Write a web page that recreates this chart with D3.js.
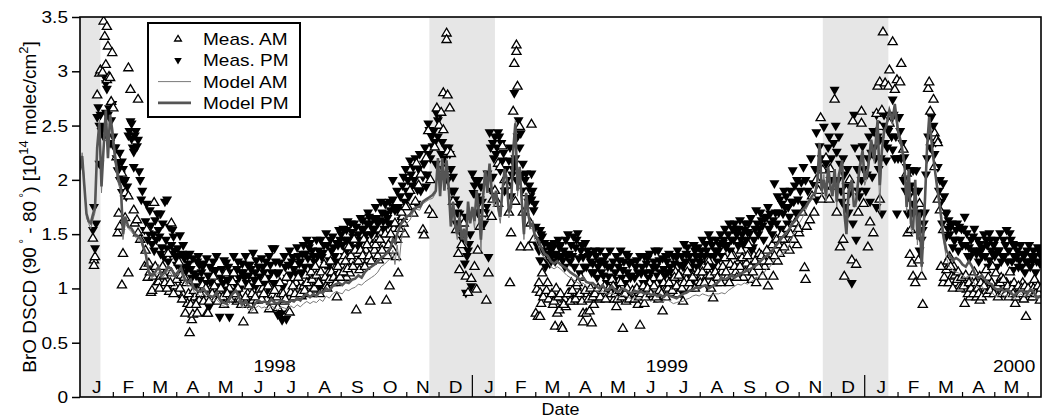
<!DOCTYPE html>
<html>
<head>
<meta charset="utf-8">
<style>
body { margin: 0; background: #fff; }
svg { display: block; font-family: "Liberation Sans", Arial, Helvetica, sans-serif; }
.frame { fill: none; stroke: #000; stroke-width: 1.6; }
.band { fill: #e6e6e6; }
.am { fill: #fff; stroke: #000; stroke-width: 1.3; }
.pm { fill: #000; stroke: none; }
.model-am { fill: none; stroke: #7a7a7a; stroke-width: 1; }
.model-pm { fill: none; stroke: #555; stroke-width: 2.6; }
</style>
</head>
<body>
<svg width="1047" height="419"></svg>
<script src="https://d3js.org/d3.v7.min.js"></script>
<script>

// day offsets counted from 1 Jan 1998
var yTicks = [0, 0.5, 1, 1.5, 2, 2.5, 3, 3.5],
    monthLetters = ["J", "F", "M", "A", "M", "J", "J", "A", "S", "O", "N", "D"],
    yearLabels = ["1998", "1999", "2000"],
    yearDays = [181, 546, 869],
    shadeFrom = [0, 325, 691],
    shadeTo = [19, 386, 752],
    legendNames = ["Meas. AM", "Meas. PM", "Model AM", "Model PM"];

var measAM = [
  [12,1.46],[13,1.26],[13,1.21],[14,1.29],[16,2.78],[18,2.98],[19,3.01],[21,2.99],[22,3.46],[23,3.32],[24,3.06],[25,3.41],[25,2.92],[26,3.23],[27,2.95],[28,2.94],[29,2.72],[30,3.17],[31,2.66],
  [34,2.21],[35,1.51],[36,1.69],[37,1.57],[39,2.06],[39,1.03],[40,1.32],[42,1.88],[42,1.65],[45,1.85],[45,1.14],[45,3.03],[47,2.83],[50,1.72],[51,1.6],[53,1.63],[54,1.51],[54,2.74],[56,1.45],
  [60,1.2],[62,1.54],[63,1.1],[64,1.23],[66,0.96],[67,0.98],[68,1.11],[69,1.79],[72,1.06],[73,1.06],[75,1.11],[77,1.2],[79,1.05],[82,1.32],[83,0.97],[85,1.6],[85,1.14],[88,1.02],[90,1.08],
  [91,0.96],[92,1.24],[94,1.12],[96,0.94],[98,0.77],[99,1.05],[100,0.86],[102,0.59],[104,0.71],[104,0.87],[105,0.76],[107,0.92],[109,0.77],[110,0.89],[111,0.89],[114,1.03],[116,0.95],[118,0.77],[119,0.77],
  [121,0.99],[124,1.11],[126,0.9],[129,0.98],[130,0.92],[133,0.92],[136,1.14],[139,1.0],[142,1.06],[143,1.14],[146,0.88],[148,0.92],[150,0.85],
  [152,0.69],[153,0.89],[156,0.95],[158,0.85],[161,0.8],[161,0.89],[165,0.89],[167,0.99],[170,1.0],[172,1.09],[174,0.9],[176,0.81],[179,0.94],
  [183,0.92],[184,0.82],[187,0.95],[190,0.88],[192,1.1],[194,0.79],[195,0.78],[196,0.96],[199,0.92],[201,1.05],[204,1.0],[206,0.93],[208,1.02],[210,1.12],
  [213,1.05],[215,1.15],[217,0.99],[219,1.2],[221,1.08],[223,0.95],[225,1.11],[227,1.22],[229,1.02],[231,1.14],[233,1.25],[235,1.05],[237,1.18],[239,0.92],[241,1.14],
  [244,1.2],[246,1.3],[248,1.1],[250,1.38],[251,1.14],[253,1.25],[255,1.45],[257,0.8],[258,1.32],[260,1.17],[262,1.25],[264,1.45],[266,1.35],[268,1.26],[270,0.88],[272,1.4],
  [274,1.35],[276,1.45],[278,1.26],[280,1.5],[282,1.4],[285,0.89],[286,1.3],[288,1.02],[290,1.45],[292,1.55],[294,1.29],[296,1.14],[298,1.6],[300,1.66],[302,1.5],
  [305,1.75],[307,1.9],[310,1.69],[312,1.8],[313,2.15],[315,1.95],[317,2.05],[319,1.54],[320,1.49],[322,2.2],[324,2.45],[325,1.72],[326,2.0],[328,1.68],[330,2.3],[332,2.66],
  [334,2.5],[336,2.62],[338,2.8],[338,2.46],[340,2.1],[341,3.35],[341,3.29],[342,2.78],[342,2.26],[344,2.66],[345,2.24],[347,1.8],[350,1.54],[352,1.32],[353,1.17],[355,1.4],[357,1.6],[359,1.11],[361,0.96],[364,1.09],
  [367,1.2],[369,0.99],[370,1.35],[372,1.57],[374,1.75],[375,1.69],[378,0.89],[380,1.14],[383,1.66],[384,1.82],[386,1.9],[389,1.78],[389,2.15],[391,2.12],[393,2.31],[395,2.0],
  [397,1.95],[399,1.7],[400,1.05],[401,1.51],[403,2.63],[404,3.07],[405,1.8],[406,3.24],[406,3.18],[407,2.86],[409,2.49],[410,1.38],[412,1.7],[415,1.88],[417,1.38],[419,1.6],[420,2.51],[422,1.45],
  [424,0.77],[425,0.99],[426,0.74],[428,0.74],[428,0.96],[429,0.86],[430,1.14],[432,0.95],[435,1.05],[437,0.92],[440,0.85],[442,0.91],[442,0.65],[444,0.77],[446,0.8],[448,0.65],[449,0.63],[451,0.9],[452,0.83],
  [455,0.96],[457,1.05],[459,0.88],[462,1.02],[464,0.92],[466,1.1],[468,0.77],[468,0.69],[471,0.77],[472,0.95],[474,0.79],[476,0.68],[478,0.85],[480,0.98],[483,0.9],
  [486,0.92],[488,1.02],[490,0.95],[493,0.99],[495,1.08],[497,0.9],[499,0.83],[501,0.95],[503,1.05],[505,0.63],[508,0.88],[510,0.98],[513,0.92],
  [517,0.95],[519,0.85],[521,0.66],[523,1.0],[525,0.86],[527,0.95],[530,1.05],[533,0.92],[535,1.0],[538,0.9],[540,1.1],[542,0.79],[544,0.98],
  [547,1.0],[550,0.96],[552,1.05],[554,1.15],[556,0.95],[559,1.1],[561,0.88],[564,1.08],[566,1.2],[568,1.0],[571,1.12],[574,1.05],
  [578,1.1],[580,1.2],[583,1.11],[585,1.25],[587,1.0],[589,0.91],[592,1.05],[594,1.2],[597,1.15],[600,1.28],[602,1.1],[605,1.22],
  [608,1.3],[610,1.15],[613,1.25],[615,1.35],[617,1.1],[620,1.23],[622,1.4],[625,1.08],[627,1.3],[629,1.05],[632,1.32],[635,1.11],[637,1.2],
  [640,1.02],[642,1.3],[645,1.11],[647,1.4],[649,1.25],[651,1.32],[654,1.45],[657,1.51],[660,1.35],[662,1.45],[665,1.6],[667,1.4],[669,1.51],
  [672,1.7],[674,1.19],[675,1.08],[676,1.57],[679,1.63],[681,1.85],[683,1.7],[685,2.0],[687,1.9],[689,2.57],[690,1.82],[691,2.09],[694,2.2],[697,1.82],[698,2.1],
  [700,1.94],[702,2.74],[704,1.7],[707,1.38],[710,1.45],[711,1.11],[713,1.9],[716,2.0],[718,1.26],[719,2.54],[722,1.22],[724,1.7],[727,2.52],[727,2.63],[729,1.78],
  [733,1.38],[735,1.61],[738,1.51],[741,2.61],[742,2.86],[744,2.9],[744,2.49],[744,1.82],[746,2.64],[747,3.36],[749,2.89],[752,2.86],[753,3.01],[753,2.52],[756,3.27],[758,2.83],[760,2.92],
  [763,2.9],[764,3.07],[766,2.28],[769,2.06],[770,1.51],[772,1.31],[773,1.54],[774,1.23],[775,1.11],[777,1.05],[780,1.26],[781,1.78],[783,1.11],[784,0.85],[789,2.84],
  [790,2.9],[791,2.63],[794,2.74],[795,2.43],[795,2.12],[797,2.37],[798,2.34],[798,1.82],[800,1.72],[803,1.05],[803,1.54],[806,1.17],[809,1.29],[811,1.11],[813,1.2],[815,1.05],[818,1.02],
  [821,1.08],[823,0.86],[825,0.99],[828,0.92],[830,1.05],[832,1.15],[834,0.92],[837,0.89],[837,1.11],[840,1.0],[842,0.96],[843,1.17],[846,1.05],[849,1.2],
  [852,1.14],[855,1.0],[857,1.1],[860,0.95],[862,1.05],[865,1.15],[866,1.02],[870,0.86],[872,1.0],[874,0.92],[877,1.05],[880,0.74],
  [883,0.92],[885,1.02],[888,1.08],[890,0.96],[893,0.89],
  // denser cloud, spring to autumn
  [61,1.35],[65,1.15],[70,1.2],[74,1.0],[78,1.12],[81,1.0],[84,1.05],[87,0.95],[93,1.0],[95,0.9],[97,1.1],[101,0.95],[103,0.85],[106,0.98],[108,0.85],[112,0.95],[115,0.88],[117,1.0],
  [120,0.88],[123,0.95],[125,1.02],[128,0.88],[131,1.0],[134,0.85],[137,0.95],[140,0.9],[144,0.95],[147,1.0],[149,0.9],[154,0.92],[157,1.02],[160,0.95],[163,0.92],[166,1.05],[169,0.9],[171,0.95],
  [175,1.02],[178,0.88],[181,0.98],[186,1.05],[189,0.95],[191,0.9],[198,1.02],[200,0.95],[203,1.1],[205,0.95],[209,0.98],[211,1.05],[214,0.95],[216,1.08],[218,1.0],[220,1.12],[222,1.05],[224,1.15],
  [228,1.1],[230,1.0],[232,1.08],[234,1.15],[236,1.1],[238,1.05],[240,1.2],[242,1.1],[245,1.15],[247,1.25],[249,1.18],[252,1.3],[254,1.2],[256,1.35],[259,1.25],[261,1.35],[263,1.3],[265,1.2],
  [267,1.4],[269,1.3],[271,1.25],[275,1.4],[277,1.3],[279,1.45],[281,1.35],[284,1.5],[287,1.4],[289,1.5],[291,1.35],[293,1.6],[295,1.45],[297,1.55],[299,1.7],[301,1.6],[303,1.75],
  [427,1.05],[431,0.92],[434,0.98],[436,0.9],[439,0.95],[441,0.88],[443,1.0],[445,0.92],[447,0.95],[450,0.85],[454,0.95],[456,0.88],[458,0.98],[461,0.9],[463,1.05],[465,0.95],[467,0.88],[470,0.98],
  [473,0.9],[475,1.0],[477,0.92],[479,0.95],[482,1.0],[484,0.92],[487,0.98],[489,0.9],[492,1.0],[494,0.95],[496,1.02],[498,0.95],[500,0.9],[502,0.98],[504,0.92],[507,0.95],[509,1.0],[511,0.9],
  [514,0.98],[516,0.9],[518,1.0],[520,0.92],[522,0.95],[524,1.02],[526,0.92],[528,1.0],[531,0.95],[534,1.02],[536,0.92],[539,0.98],[541,0.95],[543,1.05],[545,0.92],[548,1.05],[551,0.98],[553,1.1],
  [555,1.02],[557,1.12],[560,1.0],[562,1.05],[565,1.15],[567,1.05],[570,1.1],[572,1.0],[575,1.15],[577,1.05],[579,1.15],[581,1.05],[584,1.2],[586,1.12],[588,1.05],[591,1.15],[593,1.1],[596,1.05],
  [598,1.2],[601,1.15],[604,1.05],[606,1.3],[609,1.2],[611,1.1],[614,1.2],[616,1.28],[619,1.15],[621,1.3],[624,1.2],[626,1.15],[628,1.25],[631,1.2],[634,1.3],[636,1.25],[639,1.35],[641,1.25],
  [644,1.4],[646,1.3],[648,1.45],[650,1.4],[653,1.5],[655,1.38],[658,1.55],[661,1.5],[664,1.45],[666,1.6],[668,1.55],
  [801,1.2],[804,1.1],[807,1.25],[808,1.05],[810,1.2],[812,1.0],[814,1.12],[816,1.08],[817,1.15],[819,1.0],[820,1.1],[822,1.02],[824,1.12],[826,0.95],[827,1.05],[829,1.0],[831,0.95],[833,1.05],
  [835,1.0],[836,0.95],[838,1.05],[839,0.92],[841,1.02],[844,0.95],[845,1.1],[847,0.98],[848,1.05],[850,0.95],[853,1.02],[854,0.92],[856,1.05],[858,0.95],[859,1.08],[861,0.95],[863,1.02],[864,0.92],
  [867,1.0],[868,0.95],[869,1.05],[871,0.92],[873,1.02],[875,0.95],[876,1.0],[878,0.9],[879,1.02],[881,0.95],[882,1.0],[884,0.95],[886,0.92],[887,1.0],[889,0.95],[891,1.02],[892,0.95],[894,1.0]
];

var measPM = [
  [12,1.54],[13,1.75],[14,1.37],[16,2.58],[17,2.67],[18,2.5],[18,2.15],[21,2.49],[24,2.89],[24,2.62],[25,2.84],[27,2.66],[28,2.34],[30,2.7],[32,2.3],
  [33,2.3],[35,2.09],[37,2.25],[37,2.0],[39,2.17],[39,1.89],[41,1.98],[44,1.94],[45,2.41],[47,2.54],[48,2.52],[48,2.38],[50,2.26],[50,2.12],[51,2.41],[53,2.31],[54,2.37],[55,2.08],[57,1.82],
  [60,1.54],[62,1.78],[64,1.51],[65,1.72],[67,1.41],[70,1.63],[72,1.69],[73,1.54],[75,1.69],[75,1.32],[76,1.38],[78,1.29],[79,1.8],[81,1.37],[81,1.82],[83,1.57],[84,1.32],[86,1.54],[87,1.48],[89,1.29],
  [91,1.37],[93,1.49],[95,1.32],[97,1.28],[99,1.2],[101,1.23],[102,1.32],[104,1.1],[106,1.14],[107,1.02],[109,1.25],[111,1.22],[112,1.08],[115,1.23],[116,1.03],[117,1.05],[118,1.28],
  [120,0.83],[121,1.2],[123,1.11],[126,1.17],[128,0.95],[129,1.02],[130,0.74],[131,1.1],[134,1.26],[135,0.99],[136,1.24],[137,1.08],[139,0.74],[140,0.96],[142,1.15],[144,1.05],[147,1.25],[149,1.0],
  [151,1.23],[153,1.1],[155,1.05],[156,1.22],[158,1.22],[160,1.02],[161,1.33],[163,1.15],[164,1.26],[165,1.0],[167,1.11],[169,1.28],[170,1.2],[172,1.05],[174,0.98],[176,1.3],[178,1.15],[179,1.37],
  [181,1.37],[183,1.14],[184,0.76],[186,1.24],[187,0.77],[188,0.71],[189,1.02],[191,1.2],[192,0.72],[193,1.1],[195,1.35],[196,1.13],[198,1.29],[200,1.05],[201,1.14],[203,1.3],[204,1.23],[206,1.15],[208,1.4],[210,1.32],
  [213,1.38],[215,1.2],[217,1.3],[219,1.1],[220,1.45],[222,1.35],[223,1.02],[225,1.29],[227,1.4],[229,1.51],[231,1.2],[232,1.26],[234,1.35],[235,1.48],[237,1.3],[239,1.42],[241,1.54],
  [244,1.4],[246,1.3],[248,1.54],[248,1.35],[250,1.45],[252,1.6],[254,1.48],[256,1.38],[257,1.57],[259,1.5],[260,1.41],[262,1.55],[263,1.63],[265,1.45],[267,1.6],[269,1.66],[271,1.5],
  [274,1.55],[276,1.65],[278,1.5],[279,1.63],[281,1.7],[283,1.55],[285,1.69],[287,1.6],[289,1.72],[291,1.82],[291,2.0],[293,1.72],[294,1.45],[296,1.75],[298,1.85],[299,1.63],[301,2.03],
  [304,1.9],[307,2.18],[309,1.95],[310,2.12],[313,1.78],[314,1.91],[316,2.24],[318,2.05],[319,2.03],[322,1.94],[324,2.24],[324,2.52],[325,2.46],[327,2.4],[328,2.31],[330,2.35],[332,2.61],
  [335,2.61],[336,2.24],[338,2.1],[340,2.3],[342,2.0],[344,2.24],[346,1.9],[347,2.03],[349,1.82],[350,1.6],[352,1.78],[353,1.69],[355,1.5],[358,1.23],[359,1.66],[359,0.96],[361,1.35],[362,1.41],[364,1.02],
  [365,2.06],[366,1.88],[368,2.0],[370,1.7],[372,1.82],[373,1.94],[376,1.6],[378,1.75],[379,2.06],[380,1.29],[381,2.44],[383,1.9],[384,2.34],[384,2.03],[387,2.24],[389,2.44],[390,2.4],[391,2.09],[392,2.34],[393,2.18],[395,1.9],
  [397,2.0],[399,2.18],[401,1.85],[403,2.1],[404,2.8],[404,2.15],[406,2.0],[408,2.55],[410,2.43],[412,2.15],[413,1.9],[415,2.06],[417,1.8],[418,1.95],[420,2.06],[420,1.82],[422,1.72],[423,1.78],
  [424,1.57],[426,1.45],[428,1.54],[428,1.26],[430,1.48],[431,1.35],[433,1.2],[434,1.32],[436,1.4],[437,1.23],[439,1.3],[440,1.38],[442,1.25],[443,1.32],[445,1.45],[446,1.38],[448,1.3],[449,1.26],[452,1.45],
  [455,1.32],[457,1.4],[459,1.48],[461,1.38],[463,1.51],[465,1.14],[466,1.35],[468,1.29],[470,1.42],[471,1.2],[473,1.3],[474,1.32],[476,1.15],[477,1.23],[479,1.35],[481,1.1],[483,1.25],
  [485,1.15],[486,1.26],[488,1.23],[490,1.05],[492,1.11],[494,1.2],[497,1.08],[499,1.3],[500,1.02],[502,1.26],[504,1.1],[505,1.17],[507,1.05],[508,1.32],[511,1.23],[513,1.12],
  [516,1.1],[518,1.26],[520,1.0],[522,1.14],[524,1.05],[525,1.3],[527,1.23],[529,1.1],[530,1.32],[532,1.05],[533,1.2],[535,1.35],[537,1.12],[539,1.26],[541,1.05],[543,1.18],[545,1.3],
  [547,1.15],[549,1.2],[551,1.08],[553,1.23],[555,1.29],[557,1.1],[559,0.96],[561,1.2],[562,1.41],[564,1.32],[566,1.15],[568,1.05],[570,1.25],[572,1.35],[574,1.2],
  [577,1.3],[578,1.35],[580,1.23],[582,1.41],[584,1.02],[586,1.3],[587,1.45],[589,1.2],[591,1.35],[593,1.25],[595,1.4],[597,1.3],[599,1.45],[601,1.38],[603,1.5],[605,1.35],
  [608,1.45],[610,1.55],[612,1.4],[614,1.63],[616,1.5],[617,1.41],[618,1.54],[620,1.45],[622,1.6],[623,1.51],[625,1.35],[626,1.38],[628,1.55],[629,1.72],[629,1.23],[631,1.5],[634,1.63],[636,1.45],
  [639,1.66],[641,1.55],[642,1.69],[644,1.5],[645,1.63],[646,1.97],[648,1.6],[651,1.82],[652,1.55],[654,1.69],[656,1.75],[658,1.6],[660,1.66],[663,2.09],[664,1.8],[666,1.7],[668,1.82],
  [670,1.9],[671,1.98],[673,2.12],[673,1.78],[675,2.0],[677,1.9],[680,2.2],[682,1.97],[684,2.1],[685,2.44],[685,1.82],[688,2.31],[690,2.2],[692,2.49],[694,2.15],[696,2.3],[697,2.4],[698,2.0],
  [701,2.34],[702,2.83],[704,2.26],[705,2.0],[707,2.15],[709,1.8],[711,2.05],[713,1.94],[715,1.7],[716,1.88],[718,1.05],[719,1.6],[720,2.6],[722,1.45],[723,2.1],[725,1.85],[727,2.0],[728,2.31],
  [731,1.9],[733,2.2],[735,1.8],[737,2.03],[739,2.3],[741,2.6],[741,1.75],[743,2.1],[744,2.37],[746,1.69],[747,2.5],[749,2.34],[750,2.18],[752,2.45],[753,2.49],[756,2.74],[756,2.28],[758,2.2],[760,1.69],
  [762,2.58],[765,2.34],[767,2.21],[769,2.12],[770,1.69],[772,2.09],[775,2.09],[775,1.78],[778,2.09],[780,1.9],[781,1.35],[782,1.69],[784,1.54],[786,1.7],[788,2.2],
  [792,2.58],[794,2.5],[795,2.24],[798,2.12],[800,2.0],[803,1.97],[804,1.85],[806,1.69],[806,1.48],[808,1.63],[810,1.57],[812,1.38],[813,1.45],[815,1.54],[817,1.35],[818,1.57],
  [821,1.4],[823,1.66],[825,1.51],[826,1.3],[828,1.29],[829,1.45],[831,1.48],[833,1.35],[834,1.32],[836,1.25],[837,1.41],[839,1.3],[840,1.38],[843,1.45],[845,1.2],[846,1.51],[846,1.26],[849,1.32],
  [851,1.3],[853,1.2],[854,1.35],[856,1.51],[857,1.25],[859,1.45],[860,1.3],[862,1.54],[864,1.35],[865,1.51],[867,1.25],[868,1.41],[868,1.17],[871,1.29],[873,1.2],[874,1.26],[877,1.32],[879,1.15],
  [882,1.25],[884,1.2],[885,1.3],[887,1.35],[889,1.15],[891,1.38],[893,1.23],
  // denser cloud
  [15,1.6],[19,2.6],[20,2.45],[22,2.4],[23,2.95],[26,2.6],[29,2.55],[31,2.4],[34,2.2],[36,2.15],[38,2.05],[40,2.1],[42,2.0],[43,1.85],[46,2.45],[49,2.3],[52,2.45],[56,2.0],[58,1.9],
  [61,1.62],[63,1.45],[66,1.58],[68,1.5],[69,1.35],[71,1.45],[74,1.48],[77,1.6],[80,1.45],[82,1.25],[85,1.4],[88,1.35],[90,1.22],
  [92,1.3],[94,1.18],[96,1.4],[98,1.15],[100,1.3],[103,1.18],[105,1.28],[108,1.12],[110,1.3],[113,1.15],[114,1.2],[119,1.12],
  [122,1.05],[124,1.25],[125,1.15],[127,1.3],[132,1.18],[133,1.05],[138,1.2],[141,1.12],[143,1.3],[145,0.98],[146,1.18],[148,1.1],[150,1.15],
  [152,1.15],[154,1.3],[157,1.12],[159,1.18],[162,1.08],[166,1.2],[168,1.05],[171,1.15],[173,1.25],[175,1.1],[177,1.22],[180,1.05],
  [182,1.25],[185,1.15],[190,1.3],[194,1.22],[197,1.25],[199,1.18],[202,1.38],[205,1.25],[207,1.32],[209,1.2],[211,1.45],
  [212,1.28],[214,1.42],[216,1.35],[218,1.25],[221,1.3],[224,1.45],[226,1.33],[228,1.22],[230,1.4],[233,1.45],[236,1.38],[238,1.25],[240,1.4],[242,1.45],
  [243,1.5],[245,1.55],[247,1.45],[249,1.62],[251,1.4],[253,1.52],[255,1.6],[258,1.45],[261,1.65],[264,1.55],[266,1.5],[268,1.7],[270,1.6],[272,1.55],
  [273,1.65],[275,1.75],[277,1.6],[280,1.8],[282,1.62],[284,1.78],[286,1.65],[288,1.8],[290,1.6],[292,1.75],[295,1.9],[297,1.7],[300,1.95],[302,1.8],[303,2.1],
  [305,2.0],[306,1.85],[308,2.05],[311,2.0],[312,2.2],[315,2.1],[317,1.9],[320,2.15],[321,2.3],[323,2.05],[326,2.2],[329,2.45],[331,2.15],[333,2.4],
  [333,2.55],[337,2.35],[339,2.2],[343,2.3],[345,2.1],[348,1.9],[351,1.7],[354,1.6],[356,1.45],[360,1.3],[363,1.5],[367,1.95],[369,1.85],[371,2.0],[374,1.8],[377,1.7],
  [382,2.3],[385,2.2],[386,2.4],[388,2.3],[394,2.25],[396,2.1],[398,1.95],[400,2.3],[402,2.05],[405,2.2],[407,2.4],[409,2.3],[411,2.05],[414,2.0],[416,1.9],[419,1.85],[421,1.9],
  [425,1.4],[427,1.35],[429,1.5],[432,1.42],[435,1.25],[438,1.35],[441,1.42],[444,1.28],[447,1.4],[450,1.35],[451,1.2],[453,1.3],[454,1.5],
  [456,1.25],[458,1.3],[460,1.2],[462,1.45],[464,1.28],[467,1.4],[469,1.2],[472,1.35],[475,1.25],[478,1.15],[480,1.3],[482,1.2],[484,1.35],
  [487,1.12],[489,1.3],[491,1.2],[493,1.35],[495,1.1],[496,1.25],[498,1.15],[501,1.2],[503,1.35],[506,1.25],[509,1.15],[510,1.3],[512,1.1],[514,1.25],
  [517,1.2],[519,1.15],[521,1.3],[523,1.2],[526,1.15],[528,1.28],[531,1.15],[534,1.25],[536,1.2],[538,1.35],[540,1.15],[542,1.28],[544,1.12],
  [546,1.25],[548,1.32],[550,1.15],[552,1.3],[554,1.15],[556,1.35],[558,1.22],[560,1.3],[563,1.25],[565,1.38],[567,1.3],[569,1.2],[571,1.4],[573,1.3],[575,1.38],[576,1.25],
  [579,1.45],[581,1.3],[583,1.35],[585,1.5],[588,1.4],[590,1.3],[592,1.45],[594,1.35],[596,1.5],[598,1.42],[600,1.55],[602,1.4],[604,1.6],[606,1.45],[607,1.55],
  [609,1.6],[611,1.5],[613,1.55],[615,1.45],[619,1.6],[621,1.52],[624,1.65],[627,1.45],[630,1.6],[632,1.55],[633,1.7],[635,1.58],[637,1.65],
  [640,1.75],[643,1.6],[647,1.7],[649,1.85],[650,1.7],[653,1.78],[655,1.9],[657,1.85],[659,1.75],[661,1.9],[662,1.8],[665,1.95],[667,2.0],
  [699,2.2],[703,2.5],[706,2.4],[708,1.9],[710,2.2],[712,1.75],[714,2.1],[717,1.9],[721,2.3],[724,1.9],[726,2.2],[729,2.1],[732,2.05],[734,2.4],[736,2.25],[738,2.45],[740,2.2],[742,2.4],
  [745,2.2],[748,2.6],[751,2.3],[754,2.55],[755,2.4],[757,2.6],[759,2.4],[761,2.2],[763,2.45],[764,2.2],[766,2.0],[768,1.9],[771,1.85],[773,1.95],[774,1.7],[776,1.9],[777,1.75],[779,1.7],
  [783,1.45],[785,1.6],[787,2.05],[789,2.4],
  [791,2.3],[796,2.35],[799,1.9],[801,1.8],[802,1.6],[805,1.7],[807,1.55],[809,1.5],[811,1.6],[814,1.45],[816,1.6],[819,1.45],[820,1.55],
  [822,1.55],[824,1.4],[827,1.38],[830,1.35],[832,1.55],[835,1.45],[838,1.35],[841,1.5],[842,1.3],[844,1.4],[847,1.45],[848,1.35],[850,1.4],
  [852,1.45],[855,1.35],[858,1.3],[861,1.4],[863,1.25],[866,1.45],[869,1.3],[870,1.4],[872,1.35],[875,1.4],[876,1.2],[878,1.3],[880,1.25],[881,1.35],
  [883,1.4],[886,1.25],[888,1.3],[890,1.25],[892,1.35],[894,1.3]
];

var modelPM = [
  [0,2.09],[2,2.22],[4,1.95],[6,1.69],[8,1.62],[10,1.6],[12,1.68],[14,1.75],[16,2.3],[18,2.52],[20,1.94],[22,2.3],[24,2.64],[26,2.2],[28,2.6],[30,2.46],[32,2.27],[34,2.12],[36,2.0],[38,1.94],
  [40,1.5],[42,1.66],[45,1.57],[48,1.55],[51,1.5],[54,1.48],[57,1.45],[59,1.38],[61,1.33],[64,1.15],[67,1.12],[70,1.15],[73,1.2],[76,1.12],[79,1.15],[82,1.2],[85,1.18],[88,1.12],[91,1.15],[94,1.19],
  [97,1.1],[100,1.05],[103,1.08],[106,1.0],[109,0.98],[112,0.97],[115,1.0],[118,0.95],[121,0.93],[124,0.92],[127,0.96],[130,0.9],[133,0.87],[136,0.86],[139,0.9],[142,0.95],[145,0.98],[148,0.92],
  [151,0.85],[154,0.88],[157,0.84],[160,0.82],[163,0.86],[166,0.89],[169,0.87],[172,0.88],[175,0.86],[178,0.9],[181,0.87],[184,0.86],[187,0.89],[190,0.88],[193,0.86],[196,0.89],[199,0.88],[202,0.91],
  [205,0.89],[208,0.93],[211,0.95],[214,0.92],[217,0.95],[220,0.93],[223,0.97],[226,0.96],[229,1.0],[232,0.98],[235,1.02],[238,1.04],[241,1.05],[244,1.03],[247,1.06],[250,1.05],[253,1.08],[256,1.09],
  [259,1.12],[262,1.1],[265,1.15],[268,1.18],[271,1.2],[274,1.22],[277,1.25],[280,1.28],[283,1.3],[286,1.33],[289,1.38],[291,1.45],[293,1.42],[295,1.5],[297,1.55],[299,1.6],[301,1.62],[304,1.66],
  [307,1.68],[310,1.72],[313,1.75],[316,1.75],[319,1.8],[322,1.82],[325,1.84],[328,1.86],[331,1.9],[333,2.2],[335,1.85],[337,2.2],[339,1.9],[341,2.18],[343,1.93],[345,1.57],[347,1.8],[349,1.6],
  [351,1.5],[353,1.65],[355,1.45],[357,1.55],[359,1.41],[361,1.8],[363,1.6],[365,1.75],[367,1.62],[369,1.9],[371,1.7],[373,1.45],[375,1.85],[377,2.09],[379,1.88],[381,2.15],[383,1.9],[385,1.8],
  [387,1.9],[389,1.75],[391,1.66],[393,1.9],[395,2.1],[397,2.0],[399,1.7],[401,1.75],[403,2.27],[405,2.52],[407,1.9],[409,2.12],[411,1.8],[413,1.5],[415,1.88],[417,1.7],[419,1.57],[421,1.6],
  [423,1.5],[426,1.45],[429,1.38],[432,1.32],[435,1.3],[438,1.25],[441,1.23],[444,1.25],[447,1.22],[450,1.2],[453,1.18],[456,1.15],[459,1.13],[462,1.11],[465,1.08],[468,1.1],[471,1.06],[474,1.05],
  [477,1.05],[480,1.02],[483,1.0],[486,1.03],[489,0.99],[492,0.99],[495,1.02],[498,0.98],[501,0.97],[504,1.0],[507,0.99],[510,0.97],[513,0.95],[516,0.98],[519,0.96],[522,0.97],[525,0.95],[528,0.96],
  [531,0.94],[534,0.95],[537,0.93],[540,0.94],[543,0.92],[546,0.95],[549,0.93],[552,0.92],[555,0.91],[558,0.93],[561,0.95],[564,0.96],[567,0.98],[570,0.99],[573,1.01],[576,1.0],[579,1.02],[582,1.03],
  [585,1.0],[588,1.02],[591,1.04],[594,1.06],[597,1.1],[600,1.08],[603,1.1],[606,1.12],[609,1.1],[612,1.12],[615,1.14],[618,1.15],[621,1.17],[624,1.18],[627,1.2],[630,1.22],[633,1.25],[636,1.28],
  [639,1.3],[642,1.33],[645,1.36],[648,1.4],[651,1.44],[654,1.48],[657,1.51],[660,1.55],[663,1.6],[666,1.63],[669,1.68],[672,1.72],[675,1.75],[678,1.8],[681,1.85],[684,1.88],[686,2.0],[688,2.34],
  [690,1.9],[692,2.0],[694,1.85],[696,2.12],[698,1.95],[700,1.85],[702,2.1],[704,1.8],[706,2.05],[709,2.18],[711,1.7],[713,1.5],[715,1.9],[718,2.0],[720,1.75],[722,1.8],[725,2.1],[728,2.27],
  [730,2.0],[733,2.1],[736,2.37],[739,2.2],[742,2.55],[744,1.95],[746,2.27],[748,2.45],[750,2.49],[753,2.64],[756,2.55],[758,2.7],[761,2.45],[764,2.34],[767,2.15],[769,1.75],[771,2.1],[773,1.6],
  [775,1.54],[777,2.0],[779,1.45],[781,1.7],[783,1.2],[786,1.8],[788,2.3],[790,2.58],[793,2.27],[797,1.96],[800,1.75],[803,1.5],[806,1.35],[809,1.3],[812,1.26],[815,1.28],[818,1.26],[821,1.22],
  [824,1.2],[827,1.25],[830,1.2],[833,1.12],[836,1.1],[839,1.12],[842,1.08],[845,1.05],[848,1.04],[851,1.0],[854,0.99],[857,1.0],[860,0.97],[863,0.99],[866,0.96],[869,0.93],[872,0.96],[875,0.98],
  [878,0.97],[881,0.95],[884,0.99],[887,0.97],[890,0.92],[894,0.93]
];

var modelAM = [
  [0,2.05],[2,2.25],[4,2.0],[6,1.65],[8,1.6],[10,1.55],[12,1.63],[14,1.7],[16,2.25],[18,2.55],[20,1.88],[22,2.35],[24,2.62],[26,2.25],[28,2.5],[30,2.4],[32,2.2],[34,2.05],[36,1.95],[38,1.9],
  [40,1.45],[42,1.6],[45,1.55],[48,1.52],[51,1.48],[54,1.45],[57,1.42],[59,1.35],[61,1.3],[64,1.12],[67,1.1],[70,1.12],[73,1.15],[76,1.1],[79,1.12],[82,1.17],[85,1.13],[88,1.1],[91,1.12],[94,1.15],
  [97,1.06],[100,1.02],[103,1.03],[106,0.97],[109,0.95],[112,0.93],[115,0.95],[118,0.92],[121,0.9],[124,0.88],[127,0.9],[130,0.87],[133,0.84],[136,0.83],[139,0.86],[142,0.9],[145,0.92],[148,0.88],
  [151,0.82],[154,0.84],[157,0.8],[160,0.79],[163,0.82],[166,0.84],[169,0.82],[172,0.83],[175,0.8],[178,0.84],[181,0.82],[184,0.8],[187,0.83],[190,0.82],[193,0.81],[196,0.84],[199,0.82],[202,0.85],
  [205,0.83],[208,0.86],[211,0.88],[214,0.86],[217,0.88],[220,0.87],[223,0.9],[226,0.88],[229,0.93],[232,0.91],[235,0.95],[238,0.97],[241,0.96],[244,0.95],[247,0.99],[250,0.98],[253,1.0],[256,1.01],
  [259,1.04],[262,1.03],[265,1.06],[268,1.08],[271,1.1],[274,1.12],[277,1.15],[280,1.2],[283,1.22],[286,1.25],[289,1.28],[291,1.35],[293,1.22],[295,1.4],[297,1.25],[299,1.45],[301,1.55],[304,1.6],
  [307,1.63],[310,1.7],[313,1.73],[316,1.72],[319,1.78],[322,1.8],[325,1.82],[328,1.83],[331,1.88],[333,2.15],[335,1.9],[337,2.1],[339,1.95],[341,2.2],[343,1.85],[345,1.6],[347,1.75],[349,1.55],
  [351,1.45],[353,1.7],[355,1.5],[357,1.45],[359,1.4],[361,1.75],[363,1.65],[365,1.7],[367,1.55],[369,1.85],[371,1.75],[373,1.35],[375,1.8],[377,2.05],[379,1.9],[381,2.1],[383,1.85],[385,1.75],
  [387,1.85],[389,1.7],[391,1.6],[393,1.85],[395,2.05],[397,2.05],[399,1.65],[401,1.8],[403,2.2],[405,2.55],[407,1.85],[409,2.1],[411,1.75],[413,1.45],[415,1.8],[417,1.65],[419,1.55],[421,1.55],
  [423,1.45],[426,1.4],[429,1.32],[432,1.28],[435,1.25],[438,1.2],[441,1.18],[444,1.2],[447,1.18],[450,1.15],[453,1.12],[456,1.1],[459,1.08],[462,1.06],[465,1.04],[468,1.05],[471,1.02],[474,1.0],
  [477,1.0],[480,0.98],[483,0.96],[486,0.98],[489,0.95],[492,0.95],[495,0.96],[498,0.93],[501,0.92],[504,0.94],[507,0.93],[510,0.92],[513,0.9],[516,0.92],[519,0.9],[522,0.91],[525,0.89],[528,0.9],
  [531,0.88],[534,0.9],[537,0.88],[540,0.87],[543,0.88],[546,0.9],[549,0.88],[552,0.86],[555,0.87],[558,0.88],[561,0.88],[564,0.9],[567,0.91],[570,0.93],[573,0.94],[576,0.93],[579,0.95],[582,0.94],
  [585,0.93],[588,0.94],[591,0.95],[594,0.95],[597,0.96],[600,0.95],[603,0.98],[606,1.0],[609,1.02],[612,1.04],[615,1.03],[618,1.05],[621,1.04],[624,1.06],[627,1.08],[630,1.1],[633,1.12],[636,1.14],
  [639,1.18],[642,1.2],[645,1.25],[648,1.28],[651,1.3],[654,1.33],[657,1.35],[660,1.4],[663,1.48],[666,1.55],[669,1.6],[672,1.65],[675,1.72],[678,1.78],[681,1.82],[684,1.85],[686,1.95],[688,2.3],
  [690,1.85],[692,2.05],[694,1.8],[696,2.1],[698,1.9],[700,1.9],[702,2.05],[704,1.75],[706,2.0],[709,2.15],[711,1.75],[713,1.55],[715,1.85],[718,1.95],[720,1.8],[722,1.75],[725,2.05],[728,2.2],
  [730,1.95],[733,2.05],[736,2.3],[739,2.15],[742,2.5],[744,1.7],[746,2.3],[748,2.4],[750,2.5],[753,2.6],[756,2.5],[758,2.65],[761,2.4],[764,2.3],[767,2.1],[769,1.7],[771,2.05],[773,1.55],
  [775,1.5],[777,1.95],[779,1.4],[781,1.65],[783,1.15],[786,1.75],[788,2.25],[790,2.55],[793,2.25],[797,1.95],[800,1.72],[803,1.45],[806,1.28],[809,1.2],[812,1.17],[815,1.15],[818,1.14],[821,1.12],
  [824,1.1],[827,1.12],[830,1.08],[833,1.03],[836,1.0],[839,1.02],[842,0.98],[845,0.96],[848,0.97],[851,0.93],[854,0.93],[857,0.95],[860,0.93],[863,0.94],[866,0.92],[869,0.9],[872,0.92],[875,0.95],
  [878,0.93],[881,0.93],[884,0.95],[887,0.94],[890,0.9],[894,0.92]
];

var svg = d3.select("svg");

var plotL = 80, plotR = 1041, plotT = 17, plotB = 397,
    sx = 1.12; // text in the original is a little wide

var start = new Date(Date.UTC(1998, 0, 1)),
    end = d3.utcDay.offset(start, 894);

function day(d) { return d3.utcDay.offset(start, d); }

var x = d3.scaleUtc().domain([start, end]).range([plotL, plotR]);
var y = d3.scaleLinear().domain([0, 3.5]).range([plotB, plotT]);

function label(g, px, py, txt, anchor, size) {
  return g.append("text")
      .attr("transform", "translate(" + px + "," + py + ") scale(" + sx + ",1)")
      .attr("text-anchor", anchor || "middle")
      .attr("font-size", size || 17)
      .text(txt);
}

svg.append("clipPath").attr("id", "plot")
  .append("rect")
    .attr("x", plotL).attr("y", plotT)
    .attr("width", plotR - plotL).attr("height", plotB - plotT);

// polar night bands
svg.append("g").selectAll("rect")
    .data(shadeFrom)
  .enter().append("rect")
    .attr("class", "band")
    .attr("x", function(d) { return x(day(d)); })
    .attr("y", plotT)
    .attr("width", function(d, i) { return x(day(shadeTo[i])) - x(day(d)); })
    .attr("height", plotB - plotT);

var plot = svg.append("g").attr("clip-path", "url(#plot)");

var upTri = "M0,-5.1L4.6,2.7L-4.6,2.7Z",
    downTri = "M-5,-2.9L5,-2.9L0,5.8Z";

plot.append("g").selectAll("path")
    .data(measPM)
  .enter().append("path")
    .attr("class", "pm")
    .attr("d", downTri)
    .attr("transform", function(d) { return "translate(" + x(day(d[0])) + "," + y(d[1]) + ")"; });

plot.append("g").selectAll("path")
    .data(measAM)
  .enter().append("path")
    .attr("class", "am")
    .attr("d", upTri)
    .attr("transform", function(d) { return "translate(" + x(day(d[0])) + "," + y(d[1]) + ")"; });

var line = d3.line()
    .x(function(d) { return x(day(d[0])); })
    .y(function(d) { return y(d[1]); });

plot.append("path").datum(modelAM).attr("class", "model-am").attr("d", line);
plot.append("path").datum(modelPM).attr("class", "model-pm").attr("d", line);

// y axis
var yAxis = svg.append("g")
    .attr("transform", "translate(" + plotL + ",0)")
    .call(d3.axisLeft(y).tickValues(yTicks).tickSize(8).tickSizeOuter(0).tickPadding(4).tickFormat(d3.format("")));
yAxis.select(".domain").remove();
yAxis.selectAll("line").attr("stroke-width", 1.5);
yAxis.selectAll("text")
    .attr("font-size", 17)
    .attr("font-family", "Liberation Sans, Arial, sans-serif")
    .attr("x", -12 / sx)
    .attr("transform", "scale(" + sx + ",1)");

// month ticks and letters
var months = d3.utcMonth.range(start, end);
var xg = svg.append("g");
xg.selectAll("line.month")
    .data(months.slice(1))
  .enter().append("line")
    .attr("x1", function(d) { return x(d); })
    .attr("x2", function(d) { return x(d); })
    .attr("y1", plotB)
    .attr("y2", function(d) { return d.getUTCMonth() === 0 ? plotB - 22 : plotB - 5; })
    .attr("stroke", "#000")
    .attr("stroke-width", 1.2);

months.forEach(function(m) {
  var next = d3.utcMonth.offset(m, 1);
  if (next > end) return;
  label(xg, (x(m) + x(next)) / 2, plotB - 4, monthLetters[m.getUTCMonth()]);
});

yearLabels.forEach(function(t, i) {
  label(xg, x(day(yearDays[i])), plotB - 25, t);
});

label(svg, (plotL + plotR) / 2, 415, "Date", "middle", 16);

// y title with superscripts
var yt = svg.append("text")
    .attr("transform", "translate(36," + (plotT + plotB) / 2 + ") rotate(-90)")
    .attr("text-anchor", "middle")
    .attr("font-size", 19);
yt.append("tspan").text("BrO DSCD (90");
yt.append("tspan").attr("dy", -8).attr("font-size", 12).text(" \u00b0");
yt.append("tspan").attr("dy", 8).text(" - 80");
yt.append("tspan").attr("dy", -8).attr("font-size", 12).text(" \u00b0");
yt.append("tspan").attr("dy", 8).text(") [10");
yt.append("tspan").attr("dy", -8).attr("font-size", 13).text("14");
yt.append("tspan").attr("dy", 8).text(" molec/cm");
yt.append("tspan").attr("dy", -8).attr("font-size", 13).text("2");
yt.append("tspan").attr("dy", 8).text("]");

// frame
svg.append("rect")
    .attr("class", "frame")
    .attr("x", plotL).attr("y", plotT)
    .attr("width", plotR - plotL).attr("height", plotB - plotT);

// legend
var lg = svg.append("g");
lg.append("rect")
    .attr("x", 148).attr("y", 23).attr("width", 152).attr("height", 94)
    .attr("fill", "#fff").attr("stroke", "#000").attr("stroke-width", 2);

var rows = lg.selectAll("g.row")
    .data(legendNames)
  .enter().append("g")
    .attr("transform", function(d, i) { return "translate(0," + (39 + i * 21.3) + ")"; });

rows.each(function(d, i) {
  var r = d3.select(this);
  if (i === 0) r.append("path").attr("class", "am").attr("d", "M0,-3.6L3.4,2L-3.4,2Z").attr("transform", "translate(178,0)");
  if (i === 1) r.append("path").attr("class", "pm").attr("d", "M-3.8,-2.3L3.8,-2.3L0,4.2Z").attr("transform", "translate(178,0)");
  if (i === 2) r.append("line").attr("class", "model-am").attr("x1", 158).attr("x2", 191).attr("y1", 0).attr("y2", 0);
  if (i === 3) r.append("line").attr("class", "model-pm").attr("x1", 158).attr("x2", 191).attr("y1", 0).attr("y2", 0);
  label(r, 203, 6, d, "start", 17);
});

</script>
</body>
</html>
